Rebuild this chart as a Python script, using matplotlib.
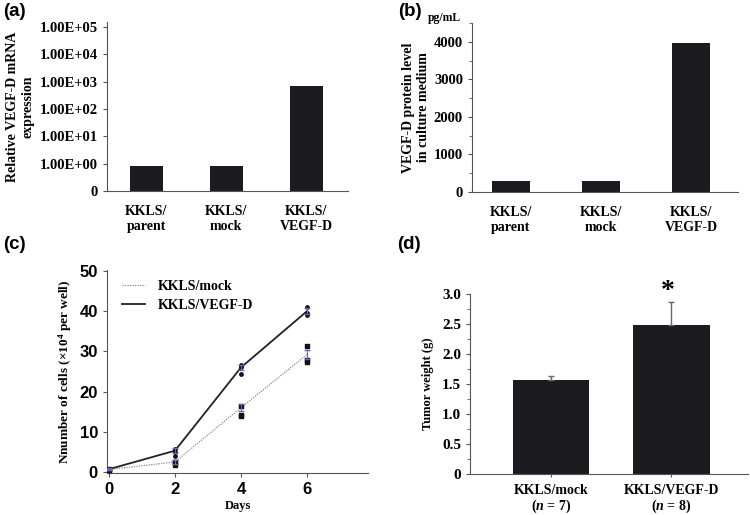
import numpy as np
import matplotlib.pyplot as plt
from matplotlib.ticker import MultipleLocator, FixedLocator, NullLocator

plt.rcParams['font.family'] = ['Liberation Serif', 'DejaVu Serif']
plt.rcParams['font.weight'] = 'bold'
plt.rcParams['mathtext.fontset'] = 'custom'
plt.rcParams['mathtext.rm'] = 'Liberation Serif:bold'
plt.rcParams['mathtext.it'] = 'Liberation Serif:italic:bold'
plt.rcParams['axes.linewidth'] = 0.8

# (a) relative mRNA expression (log)
cells_a = ['KKLS/\nparent', 'KKLS/\nmock', 'KKLS/\nVEGF-D']
mrna = [0.85, 0.85, 700]
mrna_ticks = [0.1, 1, 10, 100, 1000, 10000, 100000]
mrna_labels = ['0', '1.00E+00', '1.00E+01', '1.00E+02', '1.00E+03', '1.00E+04', '1.00E+05']

# (b) protein level
protein = [290, 290, 3970]

# (c) growth curves
days = [0, 2, 4, 6]
mock_mean = [0.6, 2.5, 16.0, 29.2]
vegf_mean = [0.7, 5.3, 26.0, 40.0]
mock_err = [0.2, 0.5, 0.8, 1.1]
vegf_err = [0.2, 0.6, 0.6, 0.7]
mock_pts = [[0.5, 0.6, 0.7], [2.6, 2.5, 1.8], [16.5, 14.2, 14.0], [31.3, 27.8, 27.3]]
vegf_pts = [[0.6, 0.7, 0.8], [5.8, 5.0, 4.0], [26.5, 26.0, 24.5], [41.0, 39.5, 39.0]]

# (d) tumor weight
groups_d = ['KKLS/mock\n($\\it{n}$ = 7)', 'KKLS/VEGF-D\n($\\it{n}$ = 8)']
weight = [1.56, 2.48]
weight_err = [0.08, 0.38]

W, H = 750, 515
fig = plt.figure(figsize=(7.5, 5.15), dpi=100)

def add_ax(l, r, t, b):
    return fig.add_axes([l / W, 1 - b / H, (r - l) / W, (b - t) / H])

def style(ax):
    for s in ['top', 'right']:
        ax.spines[s].set_visible(False)
    for s in ['left', 'bottom']:
        ax.spines[s].set_color('#555555')
    ax.tick_params(which='both', direction='out', color='#555555', labelsize=10.5)
    ax.tick_params(which='major', length=3)
    ax.tick_params(which='minor', length=2)

def bold_ticks(ax, family=None, size=None):
    for lab in ax.get_xticklabels() + ax.get_yticklabels():
        lab.set_fontweight('bold')
        if family:
            lab.set_family(family)
        if size:
            lab.set_fontsize(size)

bar_col = '#1b1b1f'

# ---- (a)
ax = add_ax(107, 348, 22, 191)
style(ax)
x = np.arange(len(cells_a))
ax.set_yscale('log')
ax.bar(x, np.array(mrna) - 0.1, bottom=0.1, width=0.41, color=bar_col)
ax.set_ylim(0.1, 10 ** 5.18)
ax.set_xlim(-0.49, 2.52)
ax.yaxis.set_major_locator(FixedLocator(mrna_ticks))
ax.yaxis.set_minor_locator(NullLocator())
ax.set_yticklabels(mrna_labels)
ax.set_xticks(x)
ax.set_xticklabels(cells_a, fontsize=10)
ax.tick_params(axis='x', length=0, pad=10)
ax.set_ylabel('Relative VEGF-D mRNA\nexpression', fontsize=10, fontweight='bold', labelpad=4)
bold_ticks(ax)

# ---- (b)
ax = add_ax(472, 738, 23, 192)
style(ax)
ax.bar(x, protein, width=0.42, color=bar_col)
ax.set_ylim(0, 4500)
ax.set_xlim(-0.43, 2.52)
ax.yaxis.set_major_locator(FixedLocator([0, 1000, 2000, 3000, 4000]))
ax.yaxis.set_minor_locator(MultipleLocator(500))
ax.set_xticks(x)
ax.set_xticklabels(cells_a, fontsize=10)
ax.tick_params(axis='x', length=0, pad=10)
ax.set_ylabel('VEGF-D protein level\nin culture medium', fontsize=10, fontweight='bold', labelpad=3)
bold_ticks(ax)
fig.text(428 / W, 1 - 21 / H, 'pg/mL', fontsize=8.5, fontweight='bold', ha='left', va='baseline')

# ---- (c)
ax = add_ax(107, 368, 270, 473)
style(ax)
ax.plot(days, mock_mean, color='#8a8a8a', lw=0.9, ls=(0, (1, 1)), label='KKLS/mock')
ax.plot(days, vegf_mean, color='#222222', lw=1.3, label='KKLS/VEGF-D')
for d, pm, pv in zip(days, mock_pts, vegf_pts):
    ax.scatter([d] * len(pm), pm, s=6, color='#111111', marker='s', zorder=3)
    ax.scatter([d] * len(pv), pv, s=6, color='#111111', zorder=3)
ax.errorbar(days, mock_mean, yerr=mock_err, fmt='none', ecolor='#6666bb', elinewidth=0.8, capsize=2.5, zorder=4)
ax.errorbar(days, vegf_mean, yerr=vegf_err, fmt='none', ecolor='#6666bb', elinewidth=0.8, capsize=2.5, zorder=4)
ax.set_xlim(-0.06, 7.85)
ax.set_ylim(-0.25, 50.25)
ax.set_xticks(days)
ax.set_yticks([0, 10, 20, 30, 40, 50])
bold_ticks(ax, family='Liberation Sans', size=12)
ax.set_xlabel('Days', fontsize=9, fontweight='bold', labelpad=2)
ax.set_ylabel('Nnumber of cells ($\\times$10$^{4}$ per well)', fontsize=9.5, fontweight='bold', labelpad=4)
leg = ax.legend(loc='upper left', bbox_to_anchor=(15 / 261, (473 - 280) / 203), frameon=False,
                fontsize=10, handlelength=1.65, handletextpad=0.95, labelspacing=0.45,
                borderpad=0, borderaxespad=0)
for t in leg.get_texts():
    t.set_fontweight('bold')

# ---- (d)
ax = add_ax(470, 748, 294, 474)
style(ax)
xd = np.arange(len(groups_d))
ax.bar(xd, weight, width=0.64, color=bar_col)
ax.errorbar(xd, weight, yerr=[[0, 0], weight_err], fmt='none', ecolor='#666666', elinewidth=1, capsize=2, zorder=1)
ax.set_ylim(0, 3.0)
ax.set_xlim(-0.675, 1.64)
ax.yaxis.set_major_locator(FixedLocator([0, 0.5, 1.0, 1.5, 2.0, 2.5, 3.0]))
ax.set_yticklabels(['0', '0.5', '1.0', '1.5', '2.0', '2.5', '3.0'])
ax.yaxis.set_minor_locator(MultipleLocator(0.25))
ax.set_xticks(xd)
ax.set_xticklabels(groups_d, fontsize=10, linespacing=1.1)
ax.tick_params(axis='x', length=2, pad=5)
ax.set_ylabel('Tumor weight (g)', fontsize=9, fontweight='bold', labelpad=6)
bold_ticks(ax, size=11)
ax.set_xticklabels(groups_d, fontsize=10, linespacing=1.1, fontweight='bold')
ax.text(xd[1] - 0.03, weight[1] + weight_err[1] - 0.02, '*', fontsize=20, fontweight='bold',
        ha='center', va='bottom', clip_on=False)

# panel letters
for lab, px, py in [('(a)', 3, 3), ('(b)', 398, 3), ('(c)', 3, 236), ('(d)', 397, 236)]:
    fig.text(px / W, 1 - py / H, lab, fontsize=13.5, family='Liberation Sans', weight='bold',
             ha='left', va='top')

fig.savefig('out.png', dpi=100)
